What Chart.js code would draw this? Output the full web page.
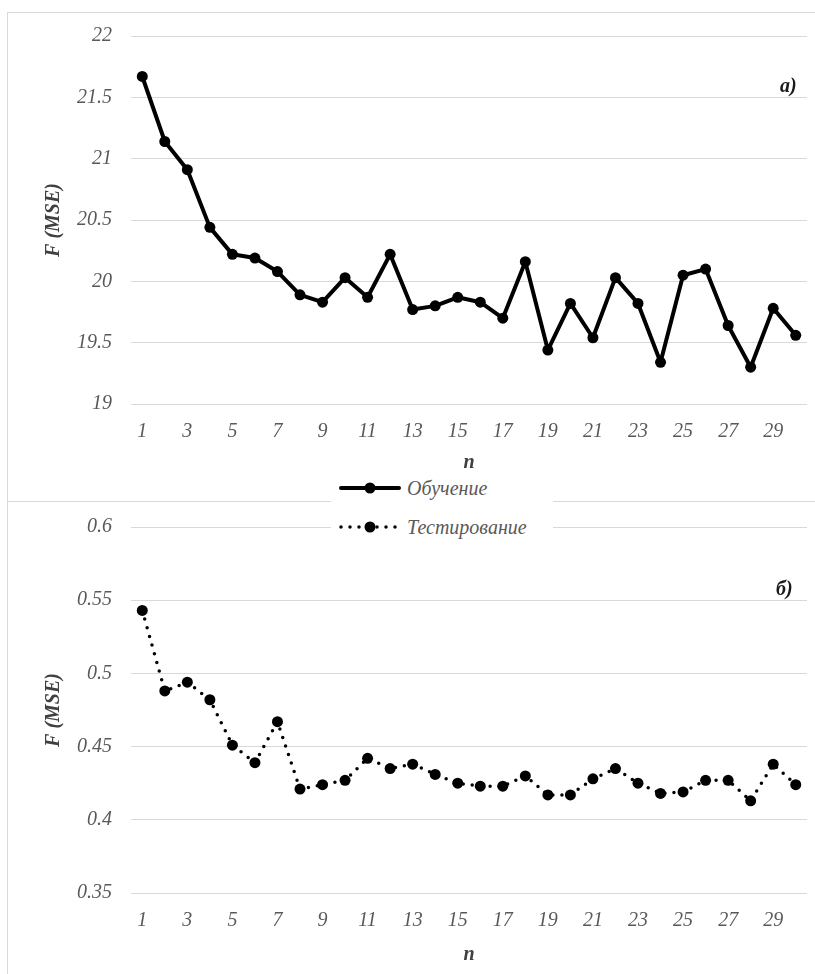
<!DOCTYPE html>
<html>
<head>
<meta charset="utf-8">
<script src="https://cdn.jsdelivr.net/npm/chart.js@4.4.1/dist/chart.umd.min.js"></script>
<style>
  body { margin: 0; background: #fff; }
  #page { position: relative; width: 815px; height: 974px; overflow: hidden; font-family: "Liberation Serif", serif; }
  .box { position: absolute; border: 1px solid #d9d9d9; }
  canvas { position: absolute; }
  .tag { position: absolute; font: italic bold 20px "Liberation Serif", serif; color: #1a1a1a; }
  #legend { position: absolute; left: 331px; top: 476px; width: 222px; height: 64px; background: #fff; }
  .row { position: absolute; left: 8px; height: 24px; display: flex; align-items: center; }
  .row span { font: italic 20px "Liberation Serif", serif; color: #595959; margin-left: 6px; }
</style>
</head>
<body>
<div id="page">
  <div class="box" style="left:7px; top:12px; width:830px; height:488px;"></div>
  <div class="box" style="left:7px; top:501px; width:830px; height:500px; border-top:none;"></div>
  <canvas id="trainChart" width="807" height="488" style="left:8px; top:13px;"></canvas>
  <canvas id="testChart" width="807" height="472" style="left:8px; top:502px;"></canvas>
  <div class="tag" style="left:780px; top:74px;">a)</div>
  <div class="tag" style="left:776px; top:577px;">б)</div>
  <div id="legend"></div>
</div>
<script>
// n (iterations) on the x axis
const categories = [1, 2, 3, 4, 5, 6, 7, 8, 9, 10, 11, 12, 13, 14, 15,
                    16, 17, 18, 19, 20, 21, 22, 23, 24, 25, 26, 27, 28, 29, 30];
const seriesNames = ["Обучение", "Тестирование"];

// F (MSE) on training
const trainValues = [21.67, 21.14, 20.91, 20.44, 20.22, 20.19, 20.08, 19.89, 19.83, 20.03,
                     19.87, 20.22, 19.77, 19.80, 19.87, 19.83, 19.70, 20.16, 19.44, 19.82,
                     19.54, 20.03, 19.82, 19.34, 20.05, 20.10, 19.64, 19.30, 19.78, 19.56];
// F (MSE) on testing
const testValues = [0.543, 0.488, 0.494, 0.482, 0.451, 0.439, 0.467, 0.421, 0.424, 0.427,
                    0.442, 0.435, 0.438, 0.431, 0.425, 0.423, 0.423, 0.430, 0.417, 0.417,
                    0.428, 0.435, 0.425, 0.418, 0.419, 0.427, 0.427, 0.413, 0.438, 0.424];

const trainTicks = { min: 19, max: 22, step: 0.5 };
const testTicks = { min: 0.35, max: 0.6, step: 0.05 };

const tickFont = { family: "Liberation Serif", size: 20, style: "italic" };
const titleFont = { family: "Liberation Serif", size: 20, style: "italic", weight: "bold" };
const grey = "#595959";

function makeChart(id, values, name, range, dash, lineWidth, top, xHeight, nPad) {
  const ctx = document.getElementById(id).getContext("2d");
  return new Chart(ctx, {
    type: "line",
    data: {
      labels: categories,
      datasets: [{
        label: name,
        data: values,
        borderColor: "#000",
        backgroundColor: "#000",
        borderWidth: lineWidth,
        borderDash: dash,
        borderCapStyle: "round",
        borderJoinStyle: "round",
        pointRadius: 5.5,
        pointBorderWidth: 0,
        pointBackgroundColor: "#000",
        tension: 0,
        fill: false
      }]
    },
    options: {
      responsive: false,
      animation: false,
      layout: { padding: { left: 0, right: 8, top: top, bottom: 0 } },
      plugins: { legend: { display: false }, tooltip: { enabled: false } },
      scales: {
        x: {
          offset: true,
          grid: { display: false, drawTicks: false, offset: true },
          border: { display: false },
          ticks: {
            autoSkip: false, maxRotation: 0, padding: 16, color: grey, font: tickFont,
            callback: function (v, i) { return i % 2 === 0 ? this.getLabelForValue(v) : ""; }
          },
          title: { display: true, text: "n", color: "#404040", font: titleFont, padding: { top: 0, bottom: nPad } },
          afterFit: function (s) { s.height = xHeight; s.paddingLeft = 0; s.paddingRight = 0; }
        },
        y: {
          min: range.min, max: range.max,
          grid: { color: "#d9d9d9", lineWidth: 1, drawTicks: false },
          border: { display: false },
          ticks: {
            stepSize: range.step, padding: 19, color: grey, font: tickFont,
            callback: v => String(Number(v.toFixed(2)))
          },
          title: { display: true, text: "F (MSE)", color: "#404040", font: titleFont, padding: { top: 34, bottom: 0 } },
          afterFit: function (s) { s.width = 123; s.paddingTop = 0; s.paddingBottom = 0; }
        }
      }
    }
  });
}

makeChart("trainChart", trainValues, seriesNames[0], trainTicks, [], 4, 23, 97, 26);
makeChart("testChart", testValues, seriesNames[1], testTicks, [0, 9], 3.5, 25, 81, 7);

// legend shared by both panels
const legend = document.getElementById("legend");
const legendStyles = [
  { dash: "", width: 4, top: 0 },
  { dash: "0 9", width: 3.5, top: 39 }
];
seriesNames.forEach((name, i) => {
  const st = legendStyles[i];
  const row = document.createElement("div");
  row.className = "row";
  row.style.top = st.top + "px";
  row.innerHTML =
    '<svg width="62" height="24"><line x1="2" y1="12" x2="60" y2="12" stroke="#000" stroke-width="' + st.width +
    '" stroke-linecap="round" stroke-dasharray="' + st.dash + '"/><circle cx="31" cy="12" r="5.5" fill="#000"/></svg>' +
    '<span>' + name + '</span>';
  legend.appendChild(row);
});
</script>
</body>
</html>
